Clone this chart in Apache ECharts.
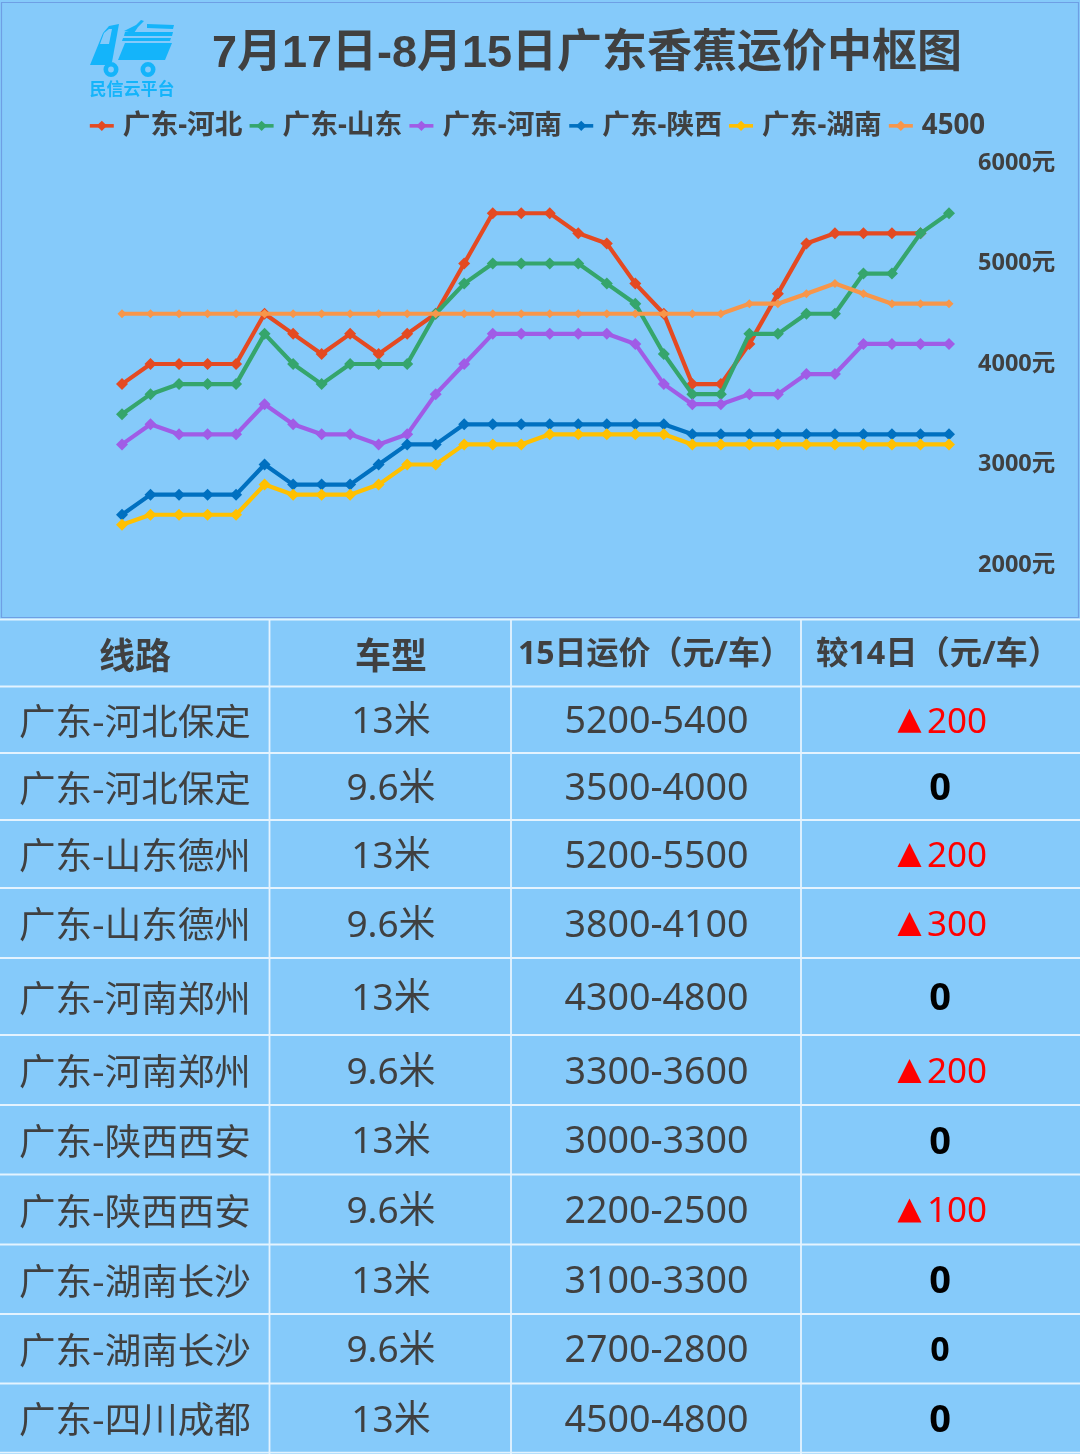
<!DOCTYPE html>
<html>
<head>
<meta charset="utf-8">
<style>html,body{margin:0;padding:0;background:#85CAFA}#c{width:1080px;height:1454px}</style>
<script src="https://cdn.jsdelivr.net/npm/echarts@6/dist/echarts.min.js"></script>
</head>
<body>
<div id="c"></div>
<script>
const dates = ['7/17','7/18','7/19','7/20','7/21','7/22','7/23','7/24','7/25','7/26','7/27','7/28','7/29','7/30','7/31','8/1','8/2','8/3','8/4','8/5','8/6','8/7','8/8','8/9','8/10','8/11','8/12','8/13','8/14','8/15'];
const hebei   = [3800,4000,4000,4000,4000,4500,4300,4100,4300,4100,4300,4500,5000,5500,5500,5500,5300,5200,4800,4500,3800,3800,4200,4700,5200,5300,5300,5300,5300,null];
const shandong= [3500,3700,3800,3800,3800,4300,4000,3800,4000,4000,4000,4500,4800,5000,5000,5000,5000,4800,4600,4100,3700,3700,4300,4300,4500,4500,4900,4900,5300,5500];
const henan   = [3200,3400,3300,3300,3300,3600,3400,3300,3300,3200,3300,3700,4000,4300,4300,4300,4300,4300,4200,3800,3600,3600,3700,3700,3900,3900,4200,4200,4200,4200];
const shaanxi = [2500,2700,2700,2700,2700,3000,2800,2800,2800,3000,3200,3200,3400,3400,3400,3400,3400,3400,3400,3400,3300,3300,3300,3300,3300,3300,3300,3300,3300,3300];
const hunan   = [2400,2500,2500,2500,2500,2800,2700,2700,2700,2800,3000,3000,3200,3200,3200,3300,3300,3300,3300,3300,3200,3200,3200,3200,3200,3200,3200,3200,3200,3200];
const center  = [4500,4500,4500,4500,4500,4500,4500,4500,4500,4500,4500,4500,4500,4500,4500,4500,4500,4500,4500,4500,4500,4500,4600,4600,4700,4800,4700,4600,4600,4600];
const seriesNames = ['广东-河北','广东-山东','广东-河南','广东-陕西','广东-湖南','4500'];
const seriesColors = ['#E44A22','#35A56C','#A05CE6','#0070C0','#FFC000','#F7964A'];

const headers = ['线路','车型','15日运价（元/车）','较14日（元/车）'];
const routes = ['广东-河北保定','广东-河北保定','广东-山东德州','广东-山东德州','广东-河南郑州','广东-河南郑州','广东-陕西西安','广东-陕西西安','广东-湖南长沙','广东-湖南长沙','广东-四川成都'];
const trucks = ['13米','9.6米','13米','9.6米','13米','9.6米','13米','9.6米','13米','9.6米','13米'];
const prices = ['5200-5400','3500-4000','5200-5500','3800-4100','4300-4800','3300-3600','3000-3300','2200-2500','3100-3300','2700-2800','4500-4800'];
const changes = [200,0,200,300,0,200,0,100,0,0,0];

const rowLines = [619.5,686.5,753,820,888,958,1035,1105,1174.5,1244.5,1314,1383.5,1452.7];
const colLines = [269.5,511,801];
const TXT = '#404040', CJK = '"Noto Sans CJK SC"', NUM = '"Noto Sans","Noto Sans CJK SC"';
const BG = '#85CAFA', LINE = '#E4F3FE', LOGO = '#14B4FA';

const g = [];
function txt(x,y,text,size,weight,fill,align,family){
  g.push({type:'text',z:10,style:{x,y,text,fill,align:align||'center',verticalAlign:'middle',
    font:(weight||'normal')+' '+size+'px '+(family||NUM)}});
}
function poly(points,fill){g.push({type:'polygon',z:5,shape:{points},style:{fill}});}

// chart panel border
g.push({type:'rect',z:0,shape:{x:1.5,y:2.5,width:1077,height:615},style:{fill:'none',stroke:'#6E9FE4',lineWidth:1.2}});

// logo
poly([[90,65],[103,33],[109,26],[119,24],[112,62],[108,65]],LOGO);
poly([[100,44],[104,33],[109,29],[112,29],[109,44]],BG);
poly([[125,43],[172,43],[165,60],[118,60]],LOGO);
poly([[147,24],[174,25],[173,29],[147,28]],LOGO);
poly([[125,32],[173,32],[172,36],[124,36]],LOGO);
poly([[123,38],[171,38],[170,41],[122,41]],LOGO);
poly([[124,31],[136,25],[141,20],[144,21],[138,27],[134,33]],LOGO);
[111,148].forEach(cx=>{
  g.push({type:'circle',z:5,shape:{cx,cy:69.5,r:5.2},style:{fill:'none',stroke:LOGO,lineWidth:4.6}});
});
txt(132,89,'民信云平台',17,'bold',LOGO,'center',CJK);

// table grid
rowLines.forEach(y=>g.push({type:'line',z:3,shape:{x1:0,y1:y,x2:1080,y2:y},style:{stroke:LINE,lineWidth:1.8}}));
colLines.forEach(x=>g.push({type:'line',z:3,shape:{x1:x,y1:619,x2:x,y2:1454},style:{stroke:LINE,lineWidth:1.8}}));

// table header
txt(135,655,headers[0],36,'bold',TXT,'center',CJK);
txt(391,655,headers[1],36,'bold',TXT,'center',CJK);
txt(518,655,headers[2],32,'bold',TXT,'left',NUM);
txt(816,655,headers[3],32.3,'bold',TXT,'left',NUM);

// table rows
routes.forEach((r,i)=>{
  const cy=(rowLines[i+1]+rowLines[i+2])/2;
  txt(19,cy+1.5,r,36.5,'normal',TXT,'left',CJK);
  txt(391,cy+3,trucks[i],37,'normal',TXT);
  txt(656.5,cy+3,prices[i],37.6,'normal',TXT);
  const c=changes[i];
  if(c>0){
    poly([[909.5,cy-11],[921.5,cy+13],[897.5,cy+13]],'#FF0000');
    txt(987,cy+3,String(c),35,'normal','#FF0000','right');
  }else{
    txt(940,cy+3,String(c),i===9?34:38,'bold','#000000');
  }
});

const data = [hebei,shandong,henan,shaanxi,hunan,center];
const option = {
  animation:false,
  backgroundColor:BG,
  color:seriesColors,
  title:{text:'7月17日-8月15日广东香蕉运价中枢图',left:582,top:50,textAlign:'center',textVerticalAlign:'middle',
    textStyle:{fontSize:45,fontWeight:'bold',color:TXT,fontFamily:'"Liberation Sans","Noto Sans CJK SC"'}},
  legend:{left:88,top:112,itemGap:5.4,itemWidth:24,itemHeight:13,padding:0,
    data:seriesNames,
    lineStyle:{width:3.6},
    textStyle:{fontSize:27.7,fontWeight:'bold',color:TXT,fontFamily:NUM,padding:[0,0,0,4]}},
  grid:{left:122,right:131,top:163,bottom:889},
  xAxis:{type:'category',data:dates,boundaryGap:false,axisLine:{show:false},axisTick:{show:false},axisLabel:{show:false},splitLine:{show:false}},
  yAxis:{type:'value',position:'right',min:2000,max:6000,interval:1000,
    axisLine:{show:false},axisTick:{show:false},splitLine:{show:false},
    axisLabel:{margin:29,formatter:v=>v+'元',fontSize:23.5,fontWeight:'bold',color:TXT,fontFamily:NUM}},
  series:data.map((d,i)=>({
    name:seriesNames[i],type:'line',z:2+i,data:d,symbol:'diamond',symbolSize:i===5?9:12,showAllSymbol:true,
    lineStyle:{width:4.2,color:seriesColors[i]},itemStyle:{color:seriesColors[i]},
    smooth:false,connectNulls:false,emphasis:{disabled:true}
  })),
  graphic:{elements:g}
};
const chart=echarts.init(document.getElementById('c'));
chart.setOption(option);
</script>
</body>
</html>
